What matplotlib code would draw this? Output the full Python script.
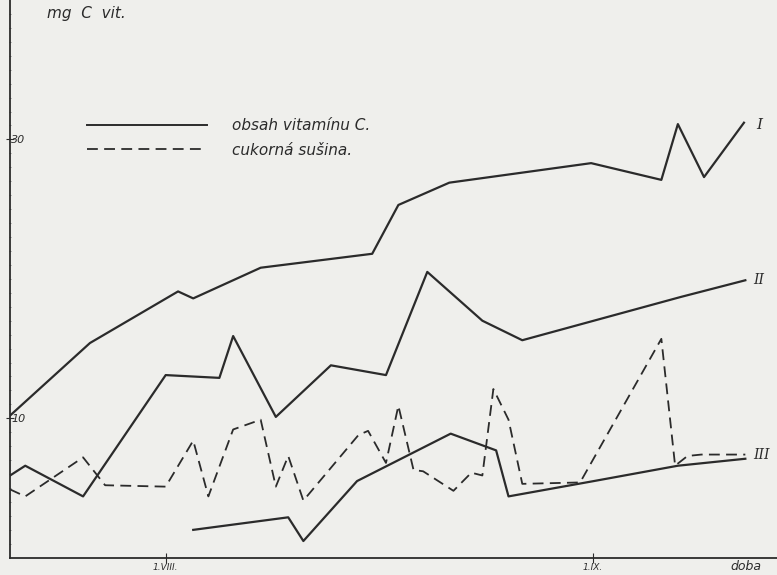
import numpy as np
import matplotlib.pyplot as plt

# days counted from 1.VIII. ; values in axis units (mg C vit.)
vit1_x = [-11.3, -5.5, 0.9, 2.0, 6.9, 15.0, 16.9, 20.6, 30.9, 36.0, 37.2, 39.1, 42.0]
vit1_y = [10.2, 15.4, 19.1, 18.6, 20.8, 21.8, 25.3, 26.9, 28.3, 27.1, 31.1, 27.3, 31.2]

vit2_x = [-11.3, -10.2, -6.0, 0.0, 3.9, 4.9, 8.0, 12.0, 16.0, 19.0, 23.0, 25.9, 37.4, 42.1]
vit2_y = [5.9, 6.6, 4.4, 13.1, 12.9, 15.9, 10.1, 13.8, 13.1, 20.5, 17.0, 15.6, 18.7, 19.9]

vit3_x = [2.0, 8.9, 10.0, 13.9, 20.7, 24.0, 24.9, 31.1, 37.2, 42.1]
vit3_y = [2.0, 2.9, 1.2, 5.5, 8.9, 7.7, 4.4, 5.5, 6.6, 7.1]

sugar_x = [-11.3, -10.2, -6.0, -4.4, 0.0, 2.0, 3.1, 4.9, 6.9, 8.0, 8.9, 10.0,
           14.0, 14.7, 16.0, 16.9, 18.0, 18.7, 20.9, 22.2, 23.0, 23.8, 24.9,
           25.9, 30.1, 36.0, 37.0, 37.9, 38.9, 42.1]
sugar_y = [4.9, 4.4, 7.2, 5.2, 5.1, 8.4, 4.4, 9.2, 9.9, 5.1, 7.3, 4.1,
           8.8, 9.1, 6.8, 10.9, 6.3, 6.2, 4.8, 6.1, 5.9, 12.1, 9.9,
           5.3, 5.4, 15.7, 6.6, 7.3, 7.4, 7.4]

month_ticks = [0, 31]
month_labels = ['1.VIII.', '1.IX.']
y_ticks = [10, 30]

ink = '#2b2b2b'
paper = '#efefec'

fig = plt.figure(figsize=(7.77, 5.75), dpi=100, facecolor=paper)
ax = fig.add_axes([0.013, 0.03, 0.987, 0.97])
ax.set_facecolor(paper)

ax.plot(vit1_x, vit1_y, color=ink, lw=1.6)
ax.plot(vit2_x, vit2_y, color=ink, lw=1.6)
ax.plot(vit3_x, vit3_y, color=ink, lw=1.6)
ax.plot(sugar_x, sugar_y, color=ink, lw=1.3, dashes=(6, 3.5))

# legend drawn by hand like the original
lx0, lx1 = -5.7, 3.0
ax.plot([lx0, lx1], [31.0, 31.0], color=ink, lw=1.4, clip_on=False)
ax.plot([lx0, lx1], [29.3, 29.3], color=ink, lw=1.3, dashes=(6, 3.5))
ax.text(4.8, 31.0, 'obsah vitamínu C.', style='italic', fontsize=11, color=ink, va='center')
ax.text(4.8, 29.2, 'cukorná sušina.', style='italic', fontsize=11, color=ink, va='center')

# curve labels
ax.text(42.9, 31.0, 'I', family='DejaVu Serif', style='italic', fontsize=11, color=ink, va='center')
ax.text(42.7, 19.9, 'II', family='DejaVu Serif', style='italic', fontsize=10, color=ink, va='center')
ax.text(42.7, 7.4, 'III', family='DejaVu Serif', style='italic', fontsize=10, color=ink, va='center')

ax.set_xlim(-11.3, 44.4)
ax.set_ylim(0, 40)
for s in ['top', 'right']:
    ax.spines[s].set_visible(False)
for s in ['left', 'bottom']:
    ax.spines[s].set_color(ink)
    ax.spines[s].set_linewidth(1.3)

ax.set_yticks(y_ticks)
ax.set_yticklabels([str(v) for v in y_ticks], style='italic', fontsize=8, color=ink)
ax.tick_params(axis='y', direction='inout', length=6, pad=-14, colors=ink)
ax.set_yticks(np.arange(1, 40, 1), minor=True)
ax.tick_params(axis='y', which='minor', direction='inout', length=2, colors='#777777')

ax.set_xticks(month_ticks)
ax.set_xticklabels(month_labels, style='italic', fontsize=6.5, color=ink)
ax.tick_params(axis='x', direction='inout', length=7, pad=0, colors=ink)

ax.text(-8.6, 39.0, 'mg  C  vit.', style='italic', fontsize=11, color=ink, va='center')
ax.text(41.0, -0.15, 'doba', style='italic', fontsize=9, color=ink, va='top', clip_on=False)

fig.savefig('out.png', dpi=100, facecolor=paper)
